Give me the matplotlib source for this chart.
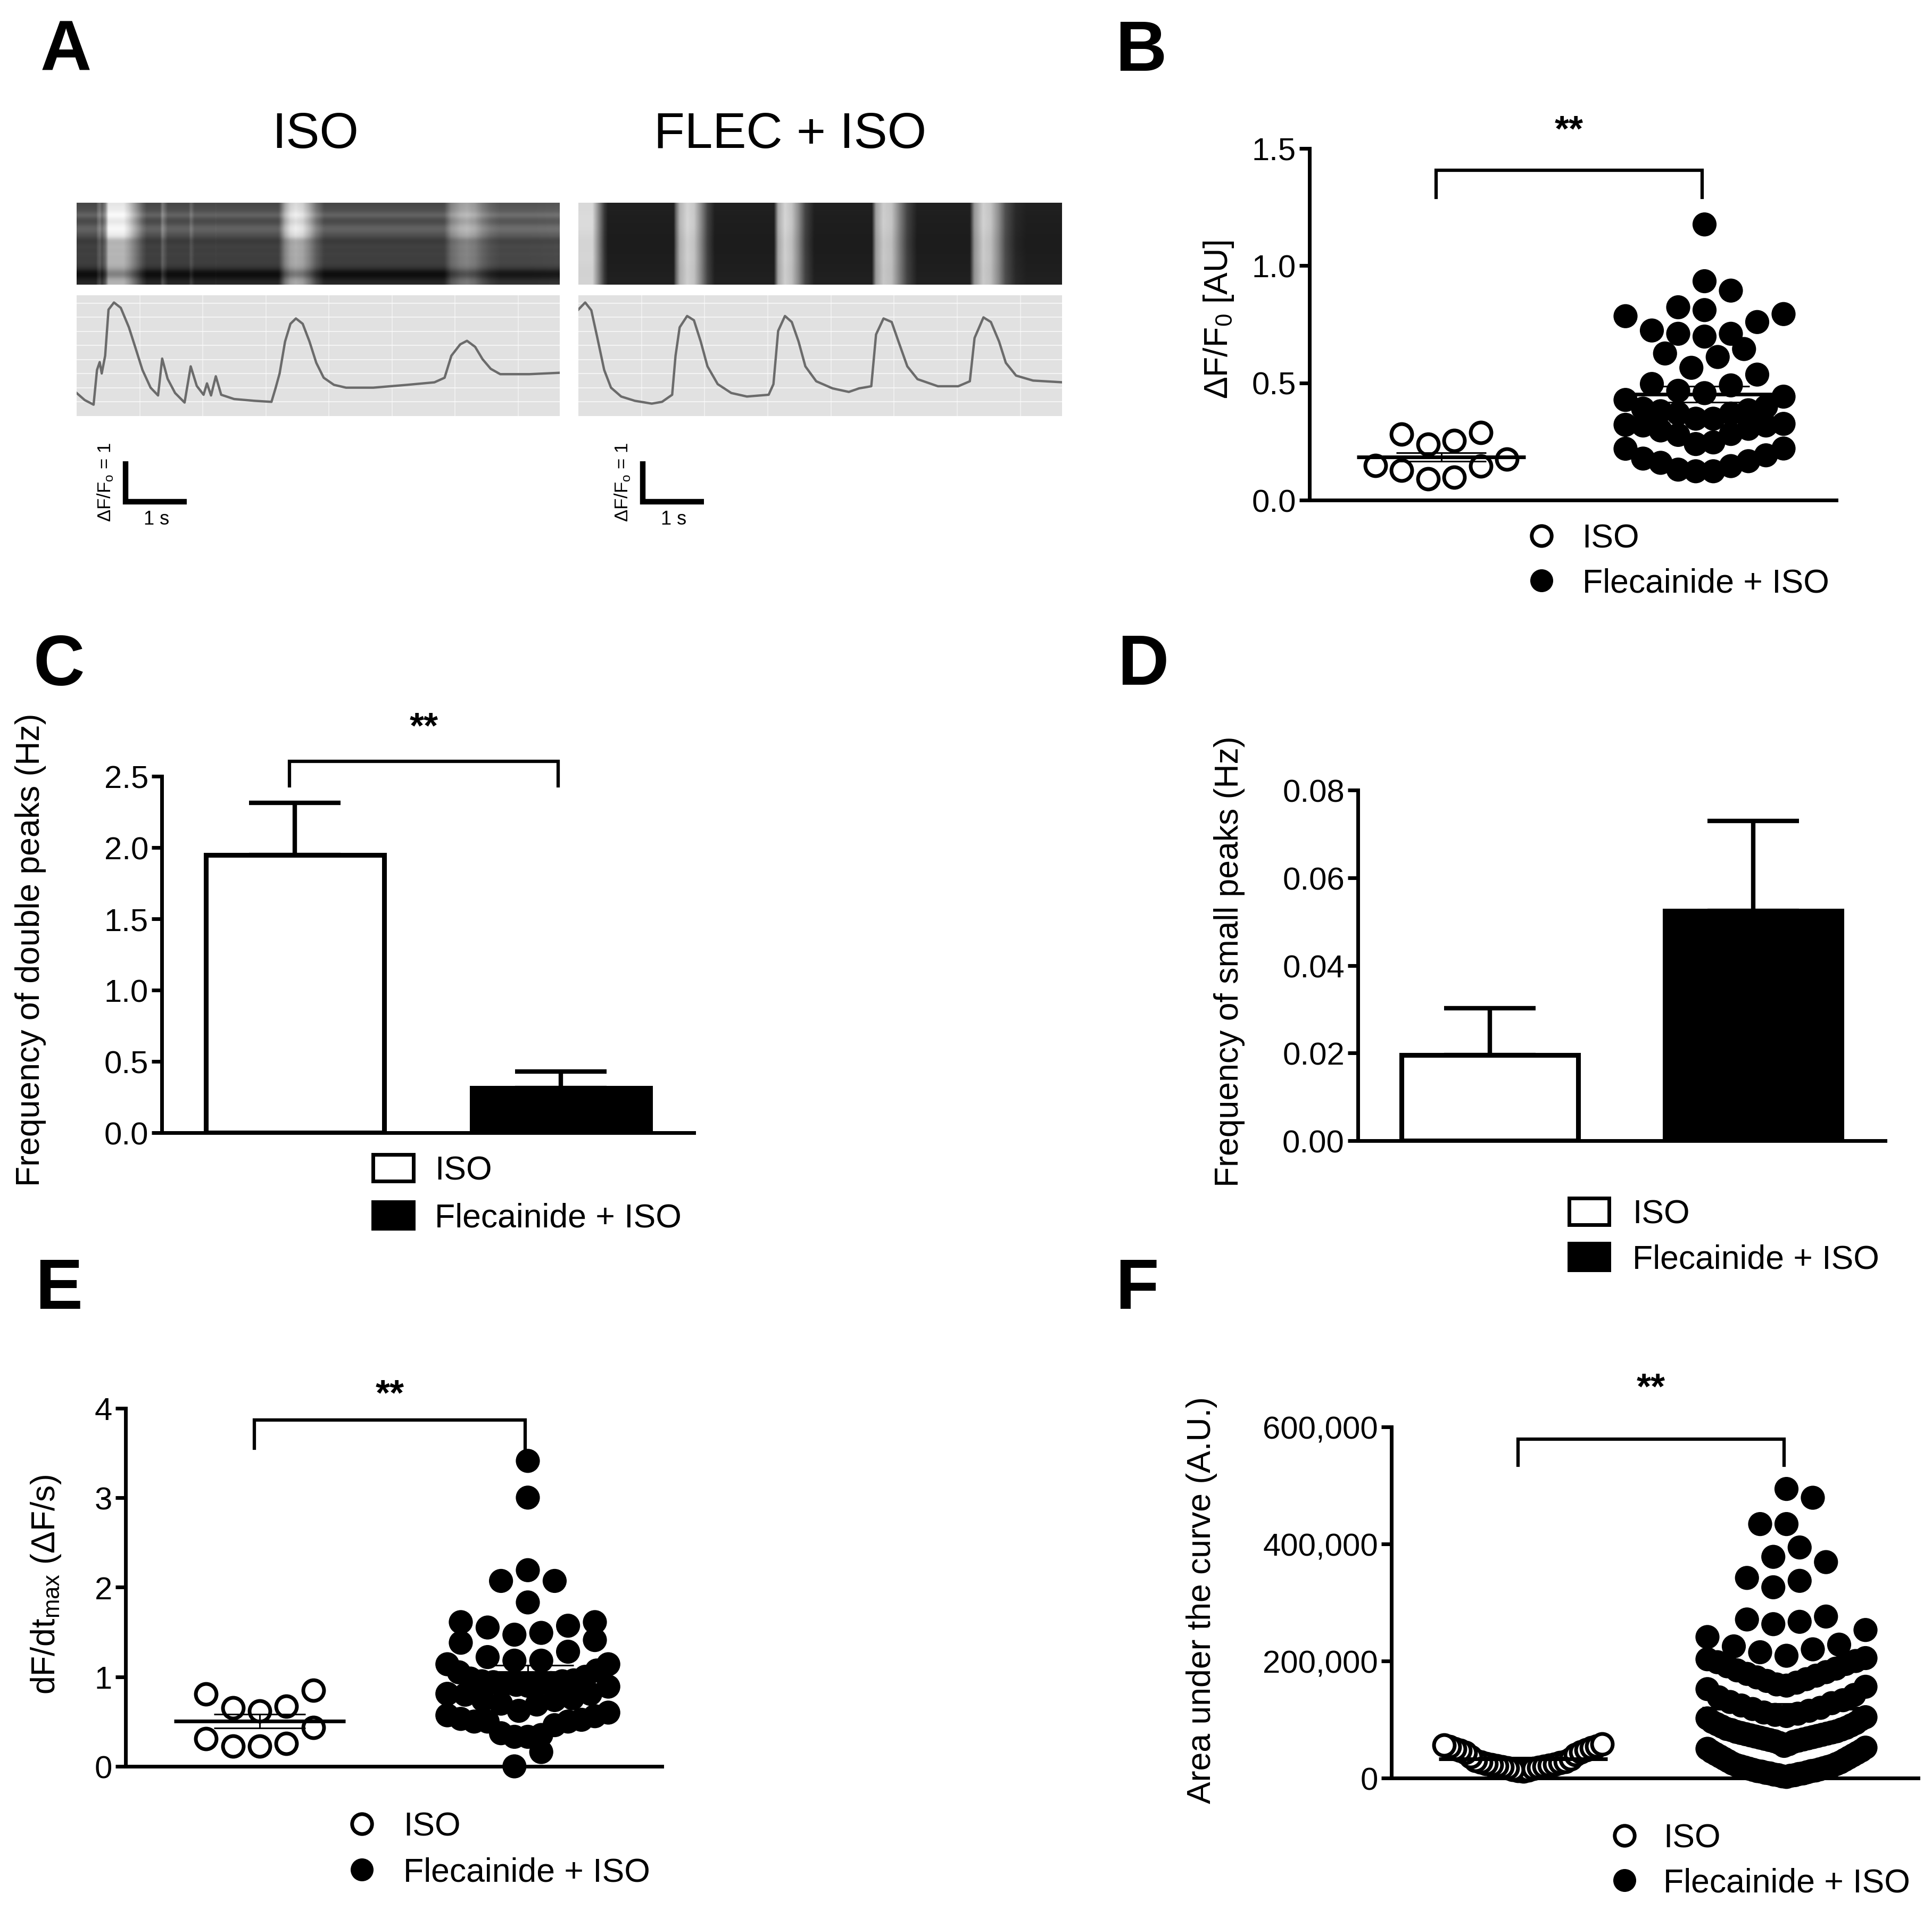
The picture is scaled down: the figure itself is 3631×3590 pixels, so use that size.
import numpy as np
import matplotlib
matplotlib.use("Agg")
import matplotlib.pyplot as plt
from matplotlib.lines import Line2D
from matplotlib.patches import Patch
from matplotlib.ticker import StrMethodFormatter

# === Data ===
# Panel A: line-scan traces (time in s, dF/F0 above panel floor)
iso_trace_t = [0.0, 0.133, 0.277, 0.333, 0.377, 0.410, 0.466, 0.521, 0.610, 0.721, 0.854, 0.965,
               1.075, 1.208, 1.330, 1.397, 1.486, 1.608, 1.763, 1.863, 1.962, 2.073, 2.129, 2.195,
               2.273, 2.361, 2.572, 2.905, 3.182, 3.248, 3.315, 3.404, 3.492, 3.581, 3.692, 3.803,
               3.914, 4.035, 4.202, 4.401, 4.845, 5.399, 5.843, 6.009, 6.120, 6.264, 6.375, 6.508,
               6.630, 6.763, 6.918, 7.395, 7.894]
iso_trace_v = [0.588, 0.407, 0.290, 1.176, 1.376, 1.086, 1.538, 2.715, 2.896, 2.760, 2.262, 1.719,
               1.176, 0.724, 0.525, 1.466, 0.950, 0.588, 0.344, 1.267, 0.769, 0.543, 0.833, 0.525,
               1.014, 0.543, 0.434, 0.389, 0.362, 0.706, 1.086, 1.900, 2.353, 2.489, 2.353, 1.900,
               1.357, 0.977, 0.796, 0.724, 0.724, 0.796, 0.860, 0.977, 1.538, 1.828, 1.919, 1.765,
               1.448, 1.204, 1.068, 1.068, 1.104]
flec_trace_t = [0.0, 0.111, 0.211, 0.310, 0.421, 0.532, 0.698, 0.920, 1.197, 1.364, 1.530, 1.585,
                1.652, 1.774, 1.885, 1.996, 2.106, 2.273, 2.494, 2.749, 3.104, 3.182, 3.259, 3.370,
                3.481, 3.592, 3.703, 3.880, 4.146, 4.412, 4.579, 4.778, 4.856, 4.978, 5.111, 5.222,
                5.366, 5.532, 5.865, 6.197, 6.386, 6.463, 6.608, 6.729, 6.863, 6.973, 7.140, 7.417,
                7.905]
flec_trace_v = [2.715, 2.896, 2.697, 1.991, 1.176, 0.724, 0.498, 0.389, 0.317, 0.362, 0.543, 1.538,
                2.262, 2.552, 2.443, 1.900, 1.267, 0.814, 0.588, 0.498, 0.543, 0.814, 2.172, 2.552,
                2.398, 1.900, 1.267, 0.887, 0.706, 0.615, 0.706, 0.760, 2.081, 2.489, 2.398, 1.900,
                1.267, 0.941, 0.760, 0.760, 0.887, 1.991, 2.516, 2.398, 1.900, 1.357, 1.032, 0.905,
                0.860]
# kymograph row brightness (top to bottom) and response to the transient
iso_kymo_base = [0.28, 0.30, 0.32, 0.42, 0.30, 0.28, 0.36, 0.40, 0.34, 0.30, 0.22, 0.24,
                 0.26, 0.24, 0.26, 0.24, 0.25, 0.24, 0.18, 0.06, 0.05, 0.12, 0.16]
iso_kymo_gain = [0.62, 0.62, 0.62, 0.58, 0.62, 0.62, 0.60, 0.58, 0.60, 0.60, 0.48, 0.46,
                 0.46, 0.46, 0.46, 0.46, 0.46, 0.46, 0.46, 0.45, 0.45, 0.55, 0.55]
flec_kymo_base = [0.13, 0.12, 0.12, 0.11, 0.11, 0.12, 0.12, 0.13]
flec_kymo_gain = [0.72, 0.74, 0.74, 0.72, 0.72, 0.72, 0.70, 0.70]

# Panel B: dF/F0 amplitude
b_iso = [0.289, 0.253, 0.239, 0.282, 0.148, 0.127, 0.090, 0.098, 0.145, 0.174]
b_flec = [0.219, 0.177, 0.159, 0.130, 0.123, 0.123, 0.145, 0.166, 0.191, 0.220,
          0.325, 0.318, 0.304, 0.278, 0.246, 0.239, 0.282, 0.297, 0.318, 0.321,
          0.390, 0.379, 0.369, 0.347, 0.347, 0.369, 0.383, 0.398,
          0.466, 0.441, 0.495, 0.489, 0.427, 0.456, 0.564, 0.535,
          0.644, 0.610, 0.625, 0.723, 0.709, 0.697, 0.709,
          0.810, 0.784, 0.759, 0.793, 0.822, 0.893, 0.933, 1.175]
b_mean = [0.184, 0.451]
b_sem = [0.018, 0.034]

# Panel C: frequency of double peaks (Hz)
c_vals = [1.949, 0.314]
c_err = [0.365, 0.115]

# Panel D: frequency of small peaks (Hz)
d_vals = [0.0196, 0.0525]
d_err = [0.0106, 0.0205]

# Panel E: dF/dt max
e_iso = [0.806, 0.653, 0.620, 0.669, 0.847, 0.434, 0.256, 0.227, 0.227, 0.310]
e_flec = [3.41, 3.00, 2.19, 2.07, 2.07, 1.83,
          1.61, 1.61, 1.57, 1.55, 1.49, 1.47, 1.41, 1.38,
          1.28, 1.22, 1.18, 1.18, 1.14, 1.14, 1.07, 1.05,
          1.00, 0.98, 0.96, 0.95, 0.95, 0.94, 0.93, 0.92, 0.92, 0.91, 0.90, 0.89,
          0.81, 0.81, 0.80, 0.76, 0.74, 0.74, 0.70, 0.69, 0.62, 0.60,
          0.57, 0.56, 0.53, 0.52, 0.50, 0.50, 0.50, 0.46,
          0.37, 0.35, 0.33, 0.33, 0.16, 0.0]
e_mean = [0.504, 1.045]
e_sem = [0.076, 0.084]

# Panel F: area under the curve (thousands)
f_iso_k = [12, 13, 14, 15, 16, 17, 18, 19, 20, 21, 22, 23, 24, 25, 26, 27, 28, 30, 33, 36,
           40, 44, 45, 47, 48, 50, 52, 54, 55, 56, 58]
f_flec_k = [2, 3, 4, 5, 5, 6, 7, 8, 8, 9, 10, 11, 12, 12, 13, 14, 15, 16, 17, 18,
            19, 20, 21, 22, 24, 25, 27, 29, 31, 33, 35, 37, 39, 41, 43, 45, 47, 50, 52, 55,
            58, 60, 62, 63, 64, 65, 66, 67, 68, 69, 70, 71, 72, 73, 74, 75, 76, 77, 78, 79,
            80, 82, 83, 84, 86, 88, 90, 92, 94, 96,
            100, 102, 104, 106, 108, 110, 112, 115, 118, 120, 124, 128, 130, 133, 138, 142,
            152, 156, 158, 160, 163, 166, 169, 172, 175, 178, 181, 184, 187, 191,
            195, 198, 200, 203, 205, 209, 215, 220, 225, 228,
            241, 253, 263, 267, 271, 276, 326, 337, 342, 369, 378, 394, 434, 434, 479, 494]
f_mean = [33000, 118800]
f_sem = [2500, 8500]

groups = ["ISO", "Flecainide + ISO"]

# === Figure setup ===
W, H = 3631, 3591
plt.rcParams["font.family"] = ["Liberation Sans", "DejaVu Sans"]
plt.rcParams["mathtext.fontset"] = "custom"
plt.rcParams["mathtext.rm"] = "Liberation Sans"
plt.rcParams["mathtext.it"] = "Liberation Sans:italic"
plt.rcParams["mathtext.bf"] = "Liberation Sans:bold"

FS = 45       # axis / legend text
TICK_FS = 43
LW = 5

fig = plt.figure(figsize=(W / 100, H / 100), dpi=100)


def px_axes(x0, y0, x1, y1):
    return fig.add_axes([x0 / W, 1 - y1 / H, (x1 - x0) / W, (y1 - y0) / H])


def style_axes(ax, ylim, yticks, fmt):
    for s in ["top", "right"]:
        ax.spines[s].set_visible(False)
    for s in ["left", "bottom"]:
        ax.spines[s].set_linewidth(LW)
    ax.set_xlim(0.5, 2.5)
    ax.set_ylim(*ylim)
    ax.set_yticks(yticks)
    ax.yaxis.set_major_formatter(StrMethodFormatter(fmt))
    ax.tick_params(axis="y", length=14, width=LW, labelsize=TICK_FS, pad=4)
    ax.tick_params(axis="x", bottom=False, labelbottom=False)


def swarm_x(center, values, binw, step=0.1, maxhalf=0.3):
    values = np.asarray(values, dtype=float)
    order = np.argsort(values, kind="stable")
    rows, cur, start = [], [], None
    for i in order:
        if start is None or values[i] - start > binw:
            if cur:
                rows.append(cur)
            cur, start = [i], values[i]
        else:
            cur.append(i)
    rows.append(cur)
    xs = np.zeros(len(values))
    for row in rows:
        n = len(row)
        sp = step if n < 2 else min(step, 2 * maxhalf / (n - 1))
        offs = (np.arange(n) - (n - 1) / 2) * sp
        slots = sorted(range(n), key=lambda k: (round(abs(offs[k]), 6), offs[k]))
        for k, idx in enumerate(row):
            xs[idx] = center + offs[slots[k]]
    return xs


def bracket(ax, lo, hi, star_y):
    ax.plot([0.98, 0.98, 1.99, 1.99], [lo, hi, hi, lo], color="black", lw=4.5,
            solid_joinstyle="miter", clip_on=False)
    ax.text(1.485, star_y, "**", ha="center", va="center", fontsize=50,
            fontweight="bold", clip_on=False)


def ylabel(ax, text, x, y):
    ax.set_ylabel(text, fontsize=FS, va="center", ha="center")
    ax.yaxis.set_label_coords(x, y)


def legend(ax, handles, left, top, hl, hh, pad, spacing):
    ax.legend(handles, groups, loc="upper left", bbox_to_anchor=(left / W, 1 - top / H),
              bbox_transform=fig.transFigure, frameon=False, fontsize=FS, borderpad=0,
              borderaxespad=0, handlelength=hl, handleheight=hh, handletextpad=pad,
              labelspacing=spacing)


dot_handles = [Line2D([], [], ls="none", marker="o", ms=27, mfc="white", mec="black", mew=5),
               Line2D([], [], ls="none", marker="o", ms=31, mfc="black", mec="black", mew=0)]
bar_handles = [Patch(facecolor="white", edgecolor="black", linewidth=5),
               Patch(facecolor="black", edgecolor="black", linewidth=5)]


def dot_panel(ax, iso, flec, mean, sem, binw):
    xi = swarm_x(1, iso, binw)
    xf = swarm_x(2, flec, binw)
    ax.scatter(xi, iso, s=784, facecolor="white", edgecolor="black", linewidth=5,
               zorder=3, clip_on=False)
    ax.scatter(xf, flec, s=1060, facecolor="black", edgecolor="none", zorder=3,
               clip_on=False)
    for c, m, e in zip([1, 2], mean, sem):
        ax.hlines(m, c - 0.32, c + 0.32, color="black", lw=5, zorder=4)
        ax.hlines([m - e, m + e], c - 0.17, c + 0.17, color="black", lw=2.2, zorder=4)
        ax.vlines(c, m - e, m + e, color="black", lw=2.2, zorder=4)


def bar_panel(ax, vals, errs):
    ax.bar([1, 2], vals, width=0.67, color=["white", "black"], edgecolor="black",
           linewidth=6.5, zorder=2)
    ax.errorbar([1, 2], vals, yerr=[[0, 0], errs], fmt="none", ecolor="black",
                elinewidth=6, capsize=62, capthick=6, zorder=1)


# === Panel A ===
def kymo(ax, t, v, base, gain):
    tc = np.linspace(0, 7.89, 800)
    b = np.clip((np.interp(tc, t, v) - 0.95) / 1.65, 0, 1)
    img = np.asarray(base)[:, None] + np.asarray(gain)[:, None] * b[None, :]
    ax.imshow(img, cmap="gray", vmin=0, vmax=1, aspect="auto",
              extent=(0, 7.89, 0, 1), interpolation="bicubic")
    ax.set_xticks([])
    ax.set_yticks([])
    for s in ax.spines.values():
        s.set_visible(False)


def trace(ax, t, v, bar_x):
    ax.set_facecolor("#e1e1e1")
    for g in np.arange(0.36, 3.0, 0.36):
        ax.axhline(g, color="white", lw=1.3, alpha=0.7, zorder=0)
    for g in np.arange(1.03, 7.8, 1.03):
        ax.axvline(g, color="white", lw=1.3, alpha=0.5, zorder=0)
    ax.plot(t, v, color="#6b6b6b", lw=3.2)
    ax.set_xlim(0, 7.89)
    ax.set_ylim(0, 3.08)
    ax.set_xticks([])
    ax.set_yticks([])
    for s in ax.spines.values():
        s.set_visible(False)
    # scale bars: 1 s and dF/F0 = 1
    ax.plot([bar_x, bar_x, bar_x + 1], [-1.15, -2.18, -2.18], color="black", lw=7.5,
            solid_capstyle="butt", solid_joinstyle="miter", clip_on=False)
    ax.text(bar_x - 0.33, -1.67, r"ΔF/F$_\mathrm{o}$ = 1", rotation=90, ha="center",
            va="center", fontsize=25, clip_on=False)
    ax.text(bar_x + 0.5, -2.62, "1 s", ha="center", va="center", fontsize=26,
            clip_on=False)


ax = px_axes(144, 382, 1052, 536)
kymo(ax, iso_trace_t, iso_trace_v, iso_kymo_base, iso_kymo_gain)
ax = px_axes(1087, 382, 1996, 536)
kymo(ax, flec_trace_t, flec_trace_v, flec_kymo_base, flec_kymo_gain)
ax = px_axes(144, 556, 1052, 783)
trace(ax, iso_trace_t, iso_trace_v, 0.80)
ax = px_axes(1087, 556, 1996, 783)
trace(ax, flec_trace_t, flec_trace_v, 1.05)
fig.text(593 / W, 1 - 278 / H, "ISO", ha="center", va="baseline", fontsize=68)
fig.text(1485 / W, 1 - 278 / H, "FLEC + ISO", ha="center", va="baseline", fontsize=68)

# === Panel B ===
ax = px_axes(2461, 279.5, 3451, 941)
dot_panel(ax, b_iso, b_flec, b_mean, b_sem, 0.104)
style_axes(ax, (0, 1.5), [0, 0.5, 1.0, 1.5], "{x:.1f}")
bracket(ax, 1.29, 1.406, 1.575)
ylabel(ax, r"ΔF/F$_\mathrm{0}$ [AU]", -0.172, 0.514)
legend(ax, dot_handles, 2866, 984, 1.0, 0.7, 0.72, 0.40)

# === Panel C ===
ax = px_axes(304, 1460, 1304, 2130)
bar_panel(ax, c_vals, c_err)
style_axes(ax, (0, 2.5), [0, 0.5, 1.0, 1.5, 2.0, 2.5], "{x:.1f}")
bracket(ax, 2.434, 2.606, 2.843)
ylabel(ax, "Frequency of double peaks (Hz)", -0.246, 0.515)
legend(ax, bar_handles, 701, 2171, 1.22, 0.85, 0.64, 0.47)

# === Panel D ===
ax = px_axes(2552, 1486, 3543, 2145)
bar_panel(ax, d_vals, d_err)
style_axes(ax, (0, 0.08), [0, 0.02, 0.04, 0.06, 0.08], "{x:.2f}")
ylabel(ax, "Frequency of small peaks (Hz)", -0.244, 0.513)
legend(ax, bar_handles, 2949, 2253, 1.2, 0.85, 0.7, 0.41)

# === Panel E ===
ax = px_axes(236, 2647.5, 1244, 3321)
dot_panel(ax, e_iso, e_flec, e_mean, e_sem, 0.273)
style_axes(ax, (0, 4), [0, 1, 2, 3, 4], "{x:.0f}")
bracket(ax, 3.554, 3.864, 4.15)
ylabel(ax, r"dF/dt$_\mathrm{max}$ (ΔF/s)", -0.148, 0.509)
legend(ax, dot_handles, 649, 3405, 1.0, 0.7, 0.75, 0.43)

# === Panel F ===
f_iso = [v * 1000 for v in f_iso_k]
f_flec = [v * 1000 for v in f_flec_k]
ax = px_axes(2615, 2683, 3605, 3343)
dot_panel(ax, f_iso, f_flec, f_mean, f_sem, 50000)
style_axes(ax, (0, 600000), [0, 200000, 400000, 600000], "{x:,.0f}")
bracket(ax, 535000, 579000, 666000)
ylabel(ax, "Area under the curve (A.U.)", -0.36, 0.508)
legend(ax, dot_handles, 3022, 3427, 1.0, 0.7, 0.67, 0.39)

# === Panel letters ===
for letter, x, y in [("A", 76, 133), ("B", 2096, 133), ("C", 62, 1288),
                     ("D", 2100, 1287), ("E", 66, 2460), ("F", 2096, 2460)]:
    fig.text(x / W, 1 - y / H, letter, fontsize=96, fontweight="bold", va="baseline")

fig.savefig("out.png", dpi=100)
